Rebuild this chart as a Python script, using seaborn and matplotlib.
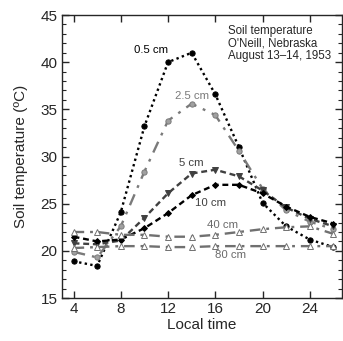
import numpy as np
import pandas as pd
import seaborn as sns
import matplotlib.pyplot as plt
from matplotlib.ticker import MultipleLocator

# local time (hours), readings every 2 h
hours = [4, 6, 8, 10, 12, 14, 16, 18, 20, 22, 24, 26]

# soil temperature (degC) at each depth
t_05 = [18.9, 18.4, 24.1, 33.2, 40.0, 41.0, 36.6, 31.0, 25.1, 22.6, 21.2, 20.4]
t_25 = [19.9, 19.3, 22.6, 28.4, 33.8, 35.6, 34.4, 30.6, 26.6, 24.3, 23.1, 22.3]
t_5 = [20.8, 20.7, 21.1, 23.5, 26.1, 28.2, 28.6, 27.9, 26.4, 24.6, 23.4, 22.6]
t_10 = [21.5, 21.0, 21.2, 22.4, 24.0, 25.9, 27.0, 27.0, 26.1, 24.7, 23.6, 22.9]
t_40 = [22.0, 22.0, 21.7, 21.7, 21.5, 21.5, 21.7, 22.0, 22.3, 22.5, 22.6, 21.8]
t_80 = [20.3, 20.4, 20.5, 20.5, 20.4, 20.4, 20.5, 20.5, 20.5, 20.5, 20.5, 20.5]

depth_labels = ['0.5 cm', '2.5 cm', '5 cm', '10 cm', '40 cm', '80 cm']

sns.set_style('ticks')
plt.rcParams['font.family'] = ['Liberation Sans', 'DejaVu Sans']

fig = plt.figure(figsize=(3.43, 3.41), dpi=100)
ax = fig.add_axes([0.18, 0.126, 0.816, 0.83])

series = [
    (t_05, 'black', (0, (1, 1.4)), 'o', 'black'),
    (t_25, '#7a7a7a', (0, (5, 3, 1.2, 3)), 'o', '#a0a0a0'),
    (t_5, '#404040', (0, (2.5, 1.6)), 'v', '#404040'),
    (t_10, 'black', (0, (2.5, 1.6)), 'D', 'black'),
    (t_40, '#707070', (0, (4.5, 2.5, 1.2, 2.5)), '^', 'white'),
    (t_80, '#707070', (0, (4.5, 2.5, 1.2, 2.5)), '^', 'white'),
]

for (temps, col, ls, mk, fc), lab in zip(series, depth_labels):
    sns.lineplot(x=hours, y=temps, ax=ax, color=col, linestyle=ls, linewidth=1.7,
                 marker=mk, markersize=3.8 if mk != 'D' else 3.0,
                 markerfacecolor=fc, markeredgecolor=col, markeredgewidth=0.7)

# depth labels next to the curves
label_pos = {
    '0.5 cm': (10.6, 41.3, 'black'),
    '2.5 cm': (14.0, 36.4, '#7a7a7a'),
    '5 cm': (14.0, 29.3, '#404040'),
    '10 cm': (15.6, 25.1, '#404040'),
    '40 cm': (16.6, 22.7, '#6a6a6a'),
    '80 cm': (17.3, 19.6, '#6a6a6a'),
}
for lab in depth_labels:
    x, y, c = label_pos[lab]
    ax.text(x, y, lab, color=c, fontsize=8.2, ha='center', va='center')

ax.text(17.1, 43.9, 'Soil temperature\nO\'Neill, Nebraska\nAugust 13\u201314, 1953',
        fontsize=8.3, ha='left', va='top', linespacing=1.05)

ax.set_xlim(3, 26.7)
ax.set_ylim(15, 45)
ax.set_xticks([4, 8, 12, 16, 20, 24])
ax.set_yticks([15, 20, 25, 30, 35, 40, 45])
ax.yaxis.set_minor_locator(MultipleLocator(1))
ax.tick_params(which='both', direction='in', top=True, right=True, labelsize=11)
ax.tick_params(which='major', length=5, width=1, pad=3)
ax.tick_params(which='minor', length=3, width=0.8)
for s in ax.spines.values():
    s.set_linewidth(1.0)

ax.set_xlabel('Local time', fontsize=11, labelpad=1)
ax.set_ylabel('Soil temperature (ºC)', fontsize=11, labelpad=9)

fig.savefig('out.png', dpi=100)
